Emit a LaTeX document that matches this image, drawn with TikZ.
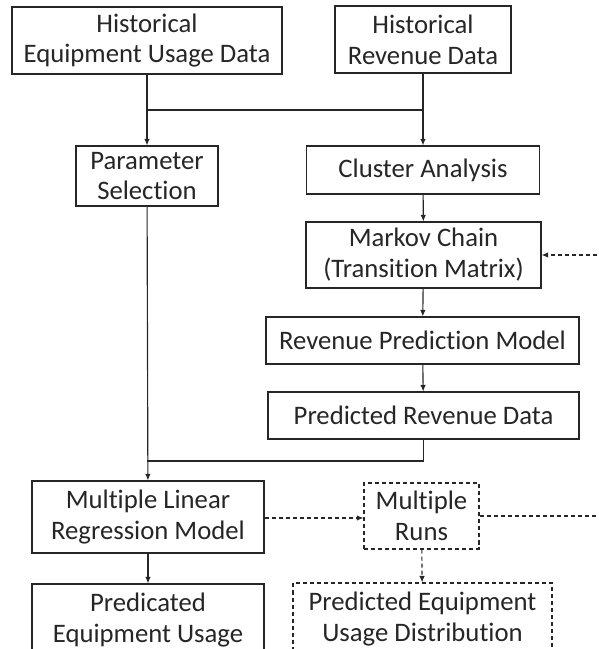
\documentclass[tikz,border=0pt]{standalone}
\usepackage{fontspec}
\setmainfont{Carlito}[Ligatures=NoCommon]
\usetikzlibrary{arrows.meta}
\definecolor{flowink}{HTML}{262626}

\begin{document}
\begin{tikzpicture}[
        box/.style={draw=flowink, line width=0.6pt, fill=white, align=center, inner sep=0pt,
                    text=flowink, font=\fontsize{15.2}{17.6}\selectfont},
        simbox/.style={box, dash pattern=on 2.3pt off 1.7pt},
        link/.style={draw=flowink, line width=0.65pt},
        arrow/.style={link, -{Latex[length=1.3mm, width=1.1mm]}},
        simarrow/.style={arrow, dash pattern=on 2.3pt off 1.7pt}
      ]
        \path[use as bounding box, clip] (0,0) rectangle (11.98,12.98);

        % input data
        \node[box, minimum width=5.40cm, minimum height=1.34cm] (huse) at (2.94,12.17) {Historical\\Equipment Usage Data};
        \node[box, minimum width=3.52cm, minimum height=1.34cm] (hrev) at (8.46,12.19) {Historical\\Revenue Data};

        % revenue side
        \node[box, minimum width=2.84cm, minimum height=1.20cm] (param)    at (2.94,9.46) {Parameter\\Selection};
        \node[box, minimum width=4.66cm, minimum height=0.96cm] (cluster)  at (8.46,9.58) {Cluster Analysis};
        \node[box, minimum width=4.70cm, minimum height=1.32cm] (markov)   at (8.47,7.88) {Markov Chain\\(Transition Matrix)};
        \node[box, minimum width=6.26cm, minimum height=0.94cm] (revmodel) at (8.45,6.17) {Revenue Prediction Model};
        \node[box, minimum width=6.22cm, minimum height=0.94cm] (revdata)  at (8.47,4.67) {Predicted Revenue Data};

        % regression and runs
        \node[box, minimum width=4.64cm, minimum height=1.44cm]    (mlr)   at (2.96,2.64) {Multiple Linear\\Regression Model};
        \node[simbox, minimum width=2.30cm, minimum height=1.32cm] (runs)  at (8.43,2.66) {Multiple\\Runs};
        \node[box, minimum width=4.64cm, minimum height=1.44cm]    (usage) at (2.96,0.58) {Predicated\\Equipment Usage};
        \node[simbox, minimum width=5.18cm, minimum height=1.44cm] (dist)  at (8.45,0.60) {Predicted Equipment\\Usage Distribution};

        \coordinate (junc)  at (2.94,10.78);
        \coordinate (merge) at (2.94,3.76);
        \coordinate (loop)  at (12.30,0);

        \draw[arrow] (huse) -- (param);
        \draw[arrow] (hrev) -- (cluster);
        \draw[link] (junc) -- (junc -| hrev);

        \draw[arrow] (cluster) -- (markov);
        \draw[arrow] (markov) -- (revmodel);
        \draw[arrow] (revmodel) -- (revdata);

        \draw[arrow] (param) -- (mlr);
        \draw[link] (revdata.south) |- (merge);
        \draw[arrow] (mlr) -- (usage);

        \draw[simarrow] ([yshift=-0.02cm]mlr.east) -- ([yshift=-0.02cm]mlr.east -| runs.west);
        \draw[simarrow] (runs) -- (dist);
        \draw[simarrow] (runs.east) -- (runs.east -| loop) -- (markov.east -| loop) -- (markov.east);
      \end{tikzpicture}
\end{document}
